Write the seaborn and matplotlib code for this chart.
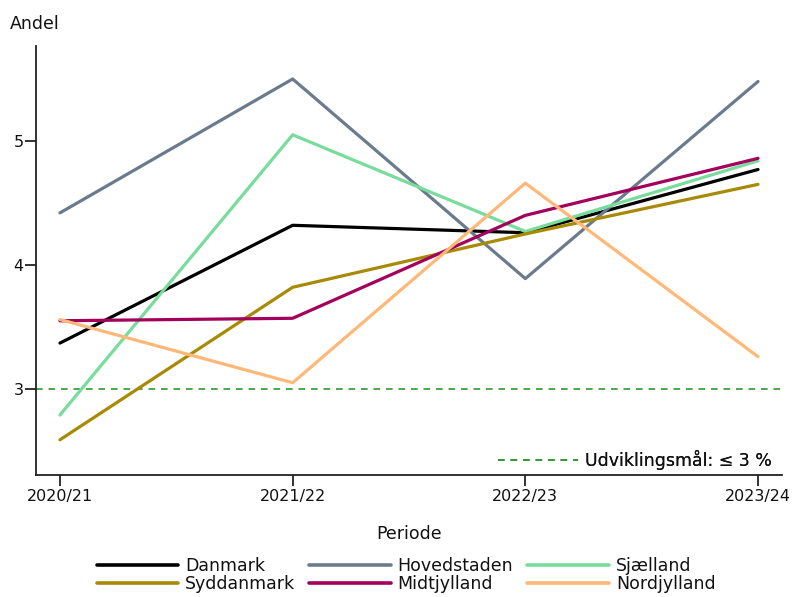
import matplotlib
matplotlib.use("Agg")
import matplotlib.pyplot as plt
import seaborn as sns
import pandas as pd
from matplotlib.lines import Line2D

periods = ["2020/21", "2021/22", "2022/23", "2023/24"]
regions = ["Danmark", "Hovedstaden", "Sjælland", "Syddanmark", "Midtjylland", "Nordjylland"]

danmark = [3.37, 4.32, 4.26, 4.77]
hovedstaden = [4.42, 5.50, 3.89, 5.48]
sjaelland = [2.79, 5.05, 4.27, 4.84]
syddanmark = [2.59, 3.82, 4.25, 4.65]
midtjylland = [3.55, 3.57, 4.40, 4.86]
nordjylland = [3.56, 3.05, 4.66, 3.26]

target = 3.0
target_label = "Udviklingsmål: ≤ 3 %"

colors = ["#000000", "#6A7B8D", "#78DC9C", "#A88A06", "#A2005C", "#FFB878"]

series = [danmark, hovedstaden, sjaelland, syddanmark, midtjylland, nordjylland]
df = pd.DataFrame(
    [(i, p, r, v) for r, vals in zip(regions, series) for i, (p, v) in enumerate(zip(periods, vals))],
    columns=["pos", "Periode", "Region", "Andel"],
)

sns.set_style("ticks")
plt.rcParams["font.family"] = ["DejaVu Sans"]
plt.rcParams["text.color"] = "#111111"
plt.rcParams["axes.labelcolor"] = "#111111"
plt.rcParams["xtick.color"] = "#111111"
plt.rcParams["ytick.color"] = "#111111"

fig = plt.figure(figsize=(7.94, 5.97), dpi=100)
ax = fig.add_axes([36 / 794, 1 - 475 / 597, (782 - 36) / 794, (475 - 46) / 597])

sns.lineplot(
    data=df, x="pos", y="Andel", hue="Region", hue_order=regions,
    palette=colors, linewidth=2.3, ax=ax, legend=False,
)

green = "#2E9A2E"
ax.axhline(target, color=green, linestyle=(0, (4, 3.5)), linewidth=1.2, zorder=0)

ax.set_xlim(-0.103, 3.103)
ax.set_ylim(2.306, 5.766)
ax.set_xticks(range(len(periods)))
ax.set_xticklabels(periods)
ax.set_yticks([3, 4, 5])
ax.tick_params(axis="both", labelsize=11.5, length=8, width=1.2)
ax.tick_params(axis="x", pad=2)
ax.tick_params(axis="y", pad=1)
for s in ["top", "right"]:
    ax.spines[s].set_visible(False)
for s in ["left", "bottom"]:
    ax.spines[s].set_linewidth(1.3)
    ax.spines[s].set_color("#222222")

ax.set_xlabel("Periode", fontsize=12.5, labelpad=15)
ax.set_ylabel("")
fig.text(10 / 794, 1 - 24 / 597, "Andel", fontsize=12.5, va="center", ha="left")

# target legend inside the plot area
tgt = ax.legend(
    [Line2D([], [], color=green, linestyle=(0, (4, 3.5)), linewidth=1.2)],
    [target_label], loc="lower right", frameon=False, fontsize=12.5,
    handlelength=4.6, handletextpad=0.4, borderaxespad=0.2,
    bbox_to_anchor=(1.0, -0.012),
)
ax.add_artist(tgt)

# region legend below the axes, filled row by row
handles = [Line2D([], [], color=c, linewidth=2.6) for c in colors]
order = [0, 3, 1, 4, 2, 5]
fig.legend(
    [handles[i] for i in order], [regions[i] for i in order],
    ncol=3, loc="upper center", bbox_to_anchor=(0.5 + 9 / 794, 1 - 545 / 597),
    frameon=False, fontsize=12.5, handlelength=4.7, columnspacing=0.8,
    labelspacing=0.0, handletextpad=0.4, borderpad=0.2,
)

fig.savefig("out.png", dpi=100)
